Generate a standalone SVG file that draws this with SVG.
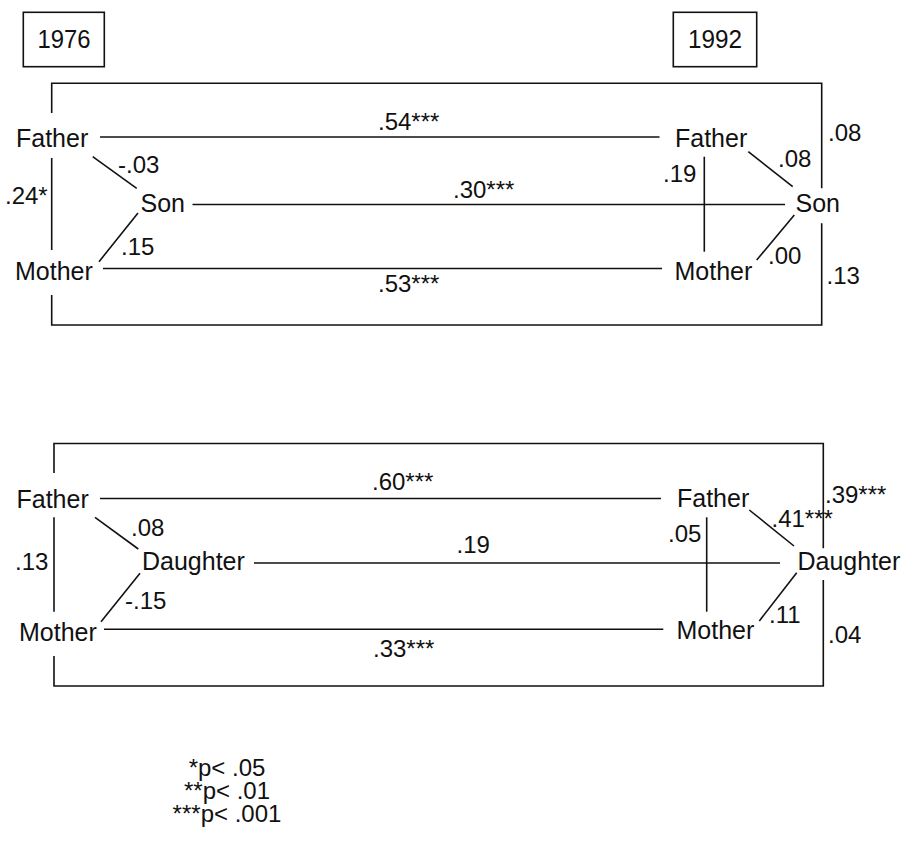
<svg xmlns="http://www.w3.org/2000/svg" width="905" height="841" viewBox="0 0 905 841">
<style>
  text { font-family: "Liberation Sans", Arial, sans-serif; font-size: 24px; fill: #111; }
  .nd { font-size: 25px; }
  .yr { font-size: 26px; text-anchor: middle; }
  .lg { text-anchor: middle; }
  .ln { stroke: #111; stroke-width: 1.6; fill: none; }
</style>
<rect width="905" height="841" fill="#fff"/>

<g id="year1976"><rect class="ln" x="23.3" y="12.3" width="81" height="54.4"/><text class="yr" x="64" y="48" textLength="53" lengthAdjust="spacingAndGlyphs">1976</text></g>
<g id="year1992"><rect class="ln" x="673.3" y="12.3" width="83.4" height="54.4"/><text class="yr" x="715" y="48" textLength="54" lengthAdjust="spacingAndGlyphs">1992</text></g>

<g id="frames">
  <path class="ln" d="M51.7,113 V83.3 H821.7 V188.3 M821.7,223.3 V325 H51.7 V295"/>
  <path class="ln" d="M54,473 V443.5 H823.3 V548.3 M823.3,580 V686 H54 V656"/>
</g>

<g id="connectors">
  <line class="ln" x1="100" y1="137" x2="659.5" y2="137"/>
  <line class="ln" x1="192.5" y1="204.5" x2="785" y2="204.5"/>
  <line class="ln" x1="103" y1="268.5" x2="662" y2="268.5"/>
  <line class="ln" x1="92.7" y1="156.7" x2="136.7" y2="188.3"/>
  <line class="ln" x1="138" y1="213" x2="99" y2="261.7"/>
  <line class="ln" x1="748.3" y1="151.7" x2="792.7" y2="186.7"/>
  <line class="ln" x1="794.3" y1="215" x2="756.7" y2="260"/>
  <line class="ln" x1="704.3" y1="156.7" x2="704.3" y2="251.7"/>
  <line class="ln" x1="51.7" y1="158" x2="51.7" y2="250"/>

  <line class="ln" x1="100" y1="498.5" x2="661" y2="498.5"/>
  <line class="ln" x1="254" y1="563" x2="780" y2="563"/>
  <line class="ln" x1="104" y1="629.3" x2="663.3" y2="629.3"/>
  <line class="ln" x1="95" y1="517.3" x2="138.3" y2="549"/>
  <line class="ln" x1="140" y1="573.3" x2="101" y2="621.7"/>
  <line class="ln" x1="749.3" y1="510" x2="794" y2="546"/>
  <line class="ln" x1="796.7" y1="572.7" x2="759.3" y2="621"/>
  <line class="ln" x1="706.7" y1="517.3" x2="706.7" y2="611.7"/>
  <line class="ln" x1="54" y1="517.3" x2="54" y2="611.7"/>
</g>

<g id="edge-labels">
  <text x="378" y="129.5">.54***</text>
  <text x="453" y="198">.30***</text>
  <text x="378" y="292">.53***</text>
  <text x="118" y="173">-.03</text>
  <text x="5" y="204">.24*</text>
  <text x="121" y="255">.15</text>
  <text x="663" y="182">.19</text>
  <text x="778" y="167">.08</text>
  <text x="828" y="141">.08</text>
  <text x="768" y="263.5">.00</text>
  <text x="826.5" y="283.5">.13</text>

  <text x="372" y="489.5">.60***</text>
  <text x="456.5" y="553">.19</text>
  <text x="373" y="656.5">.33***</text>
  <text x="131" y="536">.08</text>
  <text x="15" y="570">.13</text>
  <text x="125" y="609">-.15</text>
  <text x="668" y="542">.05</text>
  <text x="771.5" y="527">.41***</text>
  <text x="825" y="503">.39***</text>
  <text x="769" y="623">.11</text>
  <text x="828" y="642.5">.04</text>
</g>

<g id="father1976a"><text class="nd" x="16" y="147">Father</text></g>
<g id="son1976"><text class="nd" x="140.5" y="212">Son</text></g>
<g id="mother1976a"><text class="nd" x="15" y="280">Mother</text></g>
<g id="father1992a"><text class="nd" x="675" y="147">Father</text></g>
<g id="son1992"><text class="nd" x="795.5" y="212">Son</text></g>
<g id="mother1992a"><text class="nd" x="674.5" y="280">Mother</text></g>

<g id="father1976b"><text class="nd" x="16.5" y="508">Father</text></g>
<g id="daughter1976"><text class="nd" x="142" y="570">Daughter</text></g>
<g id="mother1976b"><text class="nd" x="19" y="640.5">Mother</text></g>
<g id="father1992b"><text class="nd" x="677" y="507">Father</text></g>
<g id="daughter1992"><text class="nd" x="797.5" y="570">Daughter</text></g>
<g id="mother1992b"><text class="nd" x="676.5" y="638.5">Mother</text></g>

<g id="legend">
  <text class="lg" x="227" y="776">*p&lt; .05</text>
  <text class="lg" x="227" y="798.5">**p&lt; .01</text>
  <text class="lg" x="227" y="821.5">***p&lt; .001</text>
</g>
</svg>
